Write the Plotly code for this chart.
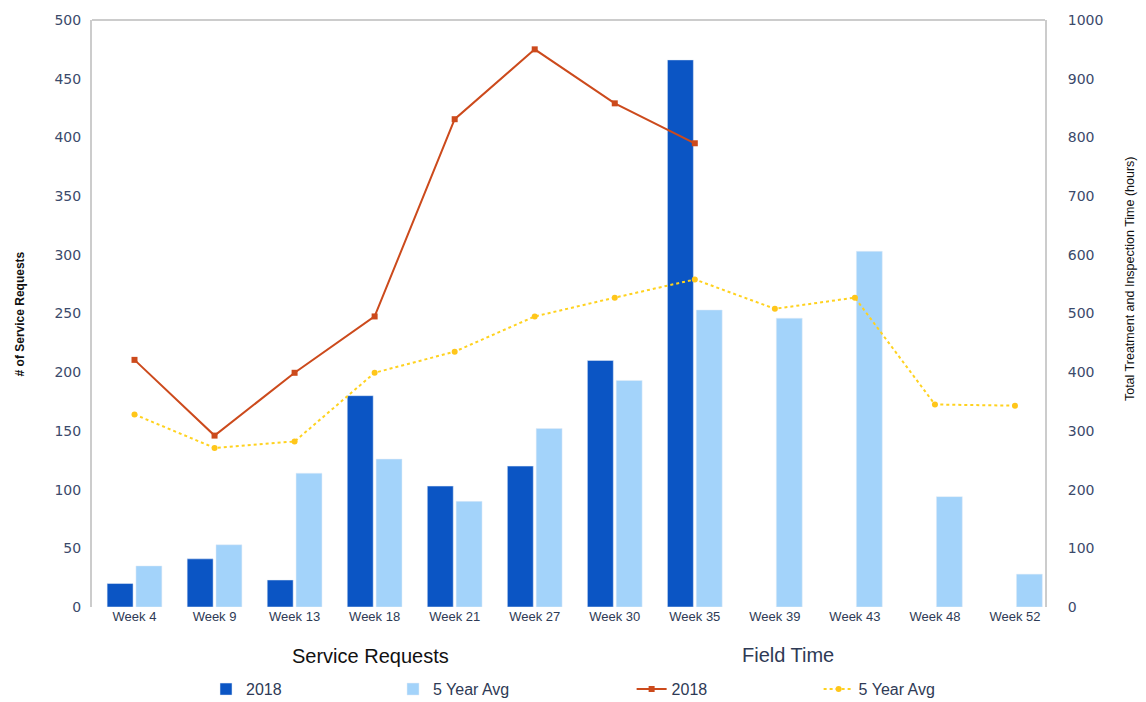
import plotly.graph_objects as go

weeks = ["Week 4", "Week 9", "Week 13", "Week 18", "Week 21", "Week 27",
         "Week 30", "Week 35", "Week 39", "Week 43", "Week 48", "Week 52"]
sr_2018 = [20, 41, 23, 180, 103, 120, 210, 466, None, None, None, None]
sr_5yr = [35, 53, 114, 126, 90, 152, 193, 253, 246, 303, 94, 28]
ft_2018 = [421, 292, 399, 495, 831, 950, 858, 790, None, None, None, None]
ft_5yr = [328, 271, 282, 399, 435, 495, 527, 558, 508, 527, 345, 343]

tick_font = dict(family="DejaVu Sans, Verdana", size=14, color="#3b4a6b")

fig = go.Figure()
fig.add_trace(go.Bar(x=weeks, y=sr_2018, name="2018", marker_color="#0b55c4",
                     yaxis="y", legend="legend"))
fig.add_trace(go.Bar(x=weeks, y=sr_5yr, name="5 Year Avg", marker_color="#a3d3fa",
                     yaxis="y", legend="legend"))
fig.add_trace(go.Scatter(x=weeks, y=ft_2018, name="2018", mode="lines+markers",
                         line=dict(color="#cc4a1c", width=2),
                         marker=dict(symbol="square", size=6, color="#cc4a1c"),
                         yaxis="y2", legend="legend2"))
fig.add_trace(go.Scatter(x=weeks, y=ft_5yr, name="5 Year Avg", mode="lines+markers",
                         line=dict(color="#ffd21f", width=2, dash="dot"),
                         marker=dict(symbol="circle", size=6, color="#ffc61a"),
                         yaxis="y2", legend="legend2"))

legend_common = dict(orientation="h", xref="container", yref="paper",
                     xanchor="left", yanchor="middle", y=-0.14,
                     entrywidth=142, entrywidthmode="pixels",
                     font=dict(size=16, color="#2e3a55"), traceorder="normal",
                     bgcolor="rgba(0,0,0,0)")

fig.update_layout(
    width=1138, height=694,
    margin=dict(l=84, r=101, t=12, b=95, autoexpand=False),
    paper_bgcolor="white", plot_bgcolor="white",
    barmode="group", bargap=0.28, bargroupgap=0.1,
    font=dict(family="Liberation Sans, Arial", color="#222"),
    xaxis=dict(tickfont=dict(family="Liberation Sans, Arial", size=13, color="#2e3a55"),
               showline=False, ticks="", showgrid=False, automargin=False,
               range=[-0.531, 11.375]),
    yaxis=dict(range=[0, 500], dtick=50, tickfont=tick_font, showgrid=False,
               showline=True, linecolor="#cccccc", linewidth=2, ticks="",
               zeroline=False, automargin=False, ticklabelstandoff=6),
    yaxis2=dict(range=[0, 1000], dtick=100, overlaying="y", side="right",
                tickfont=tick_font, showgrid=False, showline=True,
                linecolor="#cccccc", linewidth=2, ticks="", zeroline=False,
                automargin=False, ticklabelstandoff=18),
    legend=dict(legend_common, x=0.174),
    legend2=dict(legend_common, x=0.548),
    shapes=[dict(type="line", xref="paper", yref="paper", x0=0, x1=1, y0=1, y1=1,
                 line=dict(color="#cccccc", width=2))],
    annotations=[
        dict(text="<b># of Service Requests</b>", xref="paper", yref="paper",
             x=-0.0756, y=0.5, textangle=-90, showarrow=False,
             font=dict(size=12, color="#111"), xanchor="center", yanchor="middle"),
        dict(text="Total Treatment and Inspection Time (hours)", xref="paper",
             yref="paper", x=1.09, y=0.56, textangle=-90, showarrow=False,
             font=dict(size=12.5, color="#111"), xanchor="center", yanchor="middle"),
        dict(text="Service Requests", xref="paper", yref="paper", x=0.292, y=-0.105,
             showarrow=False, font=dict(size=20, color="#111"), xanchor="center"),
        dict(text="Field Time", xref="paper", yref="paper", x=0.73, y=-0.104,
             showarrow=False, font=dict(size=20, color="#2e3a55"), xanchor="center"),
    ],
)

fig.write_html("out.html")
